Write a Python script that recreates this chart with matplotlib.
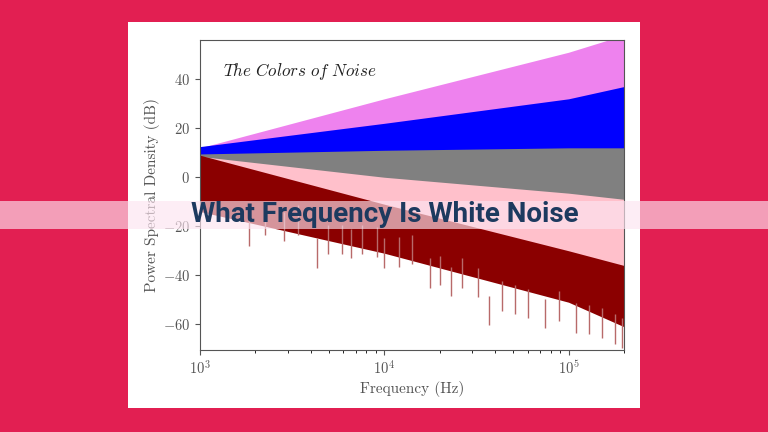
import matplotlib
matplotlib.use("Agg")
import matplotlib.pyplot as plt
from matplotlib.patches import Rectangle

plt.rcParams["font.family"] = "serif"
plt.rcParams["font.serif"] = ["cmr10"]
plt.rcParams["mathtext.fontset"] = "cm"
plt.rcParams["axes.formatter.use_mathtext"] = True
plt.rcParams["axes.unicode_minus"] = True

# envelope of each spectrum (dB) at these frequencies
freq = [1e3, 1e4, 1e5, 2e5]

violet_top = [12, 32, 51, 58]
violet_bot = [5, 15, 30, 35]
blue_top = [12.5, 22, 32, 37]
blue_bot = [5, 5, 8, 10]
gray_top = [9.5, 11, 12, 12]
gray_bot = [-12, -12, -12, -12]
pink_top = [8.5, 0, -6.5, -9]
pink_bot = [-5, -20, -40, -45]
brown_top = [9, -11, -30, -36]
brown_bot = [-14, -31, -51, -61]

# deepest dips of the brown spectrum
spike_f = [1.85e3, 2.25e3, 2.87e3, 3.42e3, 4.3e3, 4.98e3, 5.9e3, 6.6e3, 7.6e3,
           9.1e3, 1.0e4, 1.2e4, 1.41e4, 1.78e4, 2.0e4, 2.29e4, 2.63e4, 3.24e4,
           3.72e4, 4.37e4, 5.13e4, 6.03e4, 7.41e4, 8.9e4, 1.1e5, 1.29e5,
           1.51e5, 1.78e5, 1.95e5]
spike_db = [-28, -23.5, -26, -23.5, -37, -31.5, -31.5, -33, -31.5, -32.5, -37,
            -36.5, -35.5, -45, -44, -48.5, -45, -49, -60.5, -54.5, -56, -57.5,
            -61.5, -58.5, -63.5, -64, -65.5, -68, -69.5]

title = "What Frequency Is White Noise"
inset = r"$\mathit{The\ Colors\ of\ Noise}$"

fig = plt.figure(figsize=(7.68, 4.32), dpi=100)
fig.patch.set_facecolor("#e21f52")
fig.add_artist(Rectangle((128 / 768, 1 - 408 / 432), 512 / 768, 386 / 432,
                         transform=fig.transFigure, facecolor="white",
                         edgecolor="none", zorder=0))

ax = fig.add_axes([200 / 768, 1 - 350 / 432, 424 / 768, 310 / 432])
ax.set_zorder(1)

bands = [(violet_top, violet_bot, "violet"),
         (blue_top, blue_bot, "blue"),
         (gray_top, gray_bot, "gray"),
         (pink_top, pink_bot, "pink")]
for top, bot, c in bands:
    ax.fill_between(freq, bot, top, color=c, lw=0)

ax.vlines(spike_f, spike_db, [d + 12 for d in spike_db], color="#b86a6a", lw=1)
ax.fill_between(freq, brown_bot, brown_top, color="darkred", lw=0)

ax.set_xscale("log")
ax.set_xlim(1e3, 2e5)
ax.set_ylim(-70.5, 56)
ax.set_yticks([-60, -40, -20, 0, 20, 40])
ax.tick_params(labelsize=10.5, colors="#555555")
for s in ax.spines.values():
    s.set_color("#555555")
ax.set_xlabel("Frequency (Hz)", fontsize=11, color="#555555", labelpad=2)
ax.set_ylabel("Power Spectral Density (dB)", fontsize=11, color="#555555", labelpad=2)
ax.text(0.055, 0.9, inset, transform=ax.transAxes, fontsize=12.3, color="#222222",
        va="center")

fig.add_artist(Rectangle((0, 1 - 229 / 432), 1, 28 / 432, transform=fig.transFigure,
                         facecolor="#fde4f0", edgecolor="none", alpha=0.65, zorder=5))
fig.text(0.501, 1 - 215 / 432, title, family="Roboto", weight="bold", fontsize=20,
         color="#1d3a5f", ha="center", va="center", zorder=6)

fig.savefig("out.png", dpi=100, facecolor=fig.get_facecolor())
